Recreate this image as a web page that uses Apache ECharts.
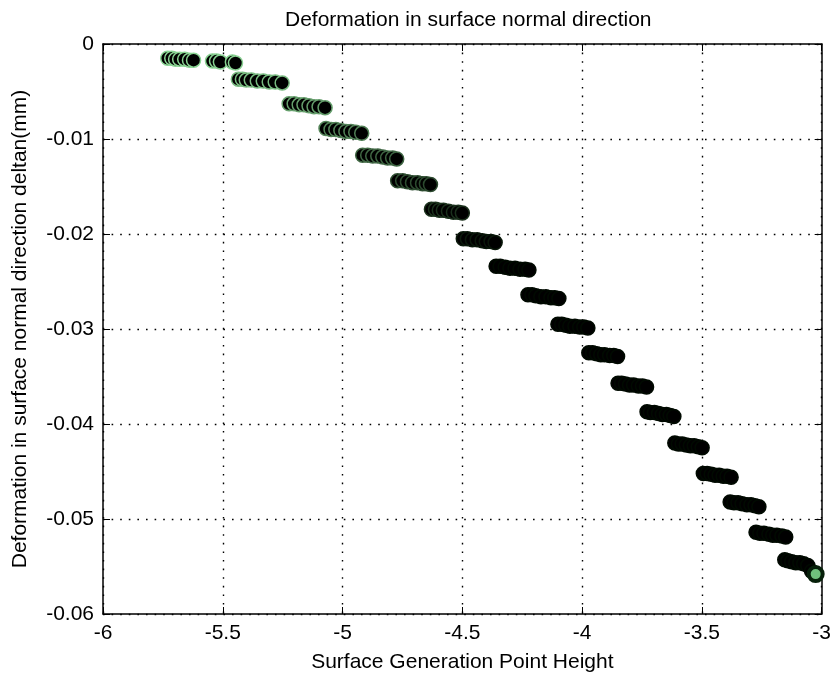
<!DOCTYPE html>
<html>
<head>
<meta charset="utf-8">
<script src="https://cdn.jsdelivr.net/npm/echarts@6/dist/echarts.min.js"></script>
<style>
html,body{margin:0;padding:0;background:#fff;}
#chart{width:834px;height:679px;}
</style>
</head>
<body>
<div id="chart"></div>
<script>
// Surface generation point height (x) for each plotted node, one band per line
const pointHeight = [
  -5.730,-5.713,-5.697,-5.680,-5.659,-5.639,-5.622,-5.543,-5.526,-5.510,-5.460,-5.447,
  -5.435,-5.418,-5.402,-5.381,-5.356,-5.331,-5.306,-5.281,-5.252,
  -5.223,-5.202,-5.181,-5.161,-5.140,-5.119,-5.098,-5.073,
  -5.069,-5.048,-5.028,-5.007,-4.986,-4.965,-4.945,-4.920,
  -4.916,-4.895,-4.874,-4.853,-4.832,-4.812,-4.791,-4.774,
  -4.770,-4.749,-4.729,-4.708,-4.687,-4.666,-4.650,-4.633,
  -4.629,-4.612,-4.596,-4.579,-4.558,-4.537,-4.517,-4.500,
  -4.496,-4.479,-4.458,-4.438,-4.417,-4.400,-4.380,-4.363,
  -4.359,-4.342,-4.321,-4.301,-4.280,-4.259,-4.238,-4.222,
  -4.226,-4.209,-4.193,-4.172,-4.151,-4.130,-4.114,-4.097,
  -4.101,-4.085,-4.068,-4.051,-4.030,-4.010,-3.993,-3.976,
  -3.972,-3.956,-3.939,-3.922,-3.906,-3.885,-3.868,-3.852,
  -3.850,-3.835,-3.819,-3.802,-3.785,-3.765,-3.748,-3.731,
  -3.729,-3.715,-3.698,-3.681,-3.665,-3.648,-3.632,-3.617,
  -3.613,-3.598,-3.582,-3.565,-3.548,-3.532,-3.515,-3.499,
  -3.494,-3.478,-3.461,-3.445,-3.428,-3.411,-3.395,-3.378,
  -3.382,-3.366,-3.349,-3.332,-3.312,-3.295,-3.278,-3.262,
  -3.274,-3.258,-3.241,-3.220,-3.204,-3.187,-3.166,-3.150,
  -3.154,-3.141,-3.125,-3.108,-3.091,-3.075,-3.058,
  -3.042,-3.025
];
// Deformation in surface normal direction deltan (mm) for the same nodes
const pointDeltan = [
  -0.0015,-0.0015,-0.0016,-0.0016,-0.0016,-0.0017,-0.0017,-0.0018,-0.0018,-0.0019,-0.0019,-0.0020,
  -0.0037,-0.0037,-0.0038,-0.0038,-0.0039,-0.0039,-0.0040,-0.0040,-0.0041,
  -0.0063,-0.0063,-0.0064,-0.0064,-0.0065,-0.0066,-0.0066,-0.0067,
  -0.0089,-0.0090,-0.0090,-0.0091,-0.0092,-0.0092,-0.0093,-0.0094,
  -0.0117,-0.0117,-0.0118,-0.0118,-0.0119,-0.0120,-0.0120,-0.0121,
  -0.0144,-0.0144,-0.0145,-0.0146,-0.0146,-0.0147,-0.0147,-0.0148,
  -0.0174,-0.0174,-0.0175,-0.0175,-0.0176,-0.0177,-0.0177,-0.0178,
  -0.0205,-0.0205,-0.0206,-0.0206,-0.0207,-0.0208,-0.0208,-0.0209,
  -0.0234,-0.0234,-0.0235,-0.0236,-0.0236,-0.0237,-0.0237,-0.0238,
  -0.0264,-0.0264,-0.0265,-0.0266,-0.0266,-0.0267,-0.0267,-0.0268,
  -0.0295,-0.0295,-0.0296,-0.0297,-0.0297,-0.0298,-0.0298,-0.0299,
  -0.0325,-0.0325,-0.0326,-0.0327,-0.0327,-0.0328,-0.0328,-0.0329,
  -0.0357,-0.0357,-0.0358,-0.0359,-0.0359,-0.0360,-0.0360,-0.0361,
  -0.0387,-0.0388,-0.0388,-0.0389,-0.0390,-0.0390,-0.0391,-0.0392,
  -0.0420,-0.0421,-0.0421,-0.0422,-0.0423,-0.0423,-0.0424,-0.0425,
  -0.0452,-0.0452,-0.0453,-0.0454,-0.0454,-0.0455,-0.0455,-0.0456,
  -0.0482,-0.0483,-0.0483,-0.0484,-0.0485,-0.0485,-0.0486,-0.0487,
  -0.0514,-0.0515,-0.0515,-0.0516,-0.0517,-0.0517,-0.0518,-0.0519,
  -0.0543,-0.0544,-0.0545,-0.0546,-0.0546,-0.0547,-0.0549,
  -0.0555,-0.0558
];
const xTickValues = [-6, -5.5, -5, -4.5, -4, -3.5, -3];
const yTickValues = [0, -0.01, -0.02, -0.03, -0.04, -0.05, -0.06];

const FONT = '"Liberation Sans", Arial, sans-serif';

function edgeColor(d) {
  const t = Math.min(1, Math.max(0, -d / 0.06));
  let f = Math.max(0, 1 - t * 2.6);
  f = Math.pow(f, 1.2);
  const r = Math.round(150 * f), g = Math.round(230 * f + 10 * (1 - f)), b = Math.round(160 * f);
  return 'rgb(' + r + ',' + g + ',' + b + ')';
}

const data = pointHeight.map(function (h, i) {
  const d = pointDeltan[i];
  const last = i === pointHeight.length - 1;
  return {
    value: [h, d],
    itemStyle: {
      color: last ? '#6fbf7c' : '#000',
      borderColor: last ? '#06200a' : edgeColor(d),
      borderWidth: last ? 4 : 1.5,
      opacity: 1
    }
  };
});

const chart = echarts.init(document.getElementById('chart'), null, {renderer: 'canvas'});

const dotted = {show: true, lineStyle: {color: '#000', width: 1.4, type: [1.6, 7]}};
const labelStyle = {color: '#000', fontFamily: FONT, fontSize: 21};

chart.setOption({
  animation: false,
  backgroundColor: '#fff',
  title: {
    text: 'Deformation in surface normal direction',
    left: 280,
    top: 5,
    textStyle: {color: '#000', fontWeight: 'normal', fontFamily: FONT, fontSize: 21}
  },
  grid: {left: 103, right: 9, top: 44, bottom: 65, containLabel: false},
  xAxis: [{
    type: 'value', min: xTickValues[0], max: xTickValues[xTickValues.length - 1], interval: 0.5,
    name: 'Surface Generation Point Height', nameLocation: 'middle', nameGap: 38,
    nameTextStyle: labelStyle,
    axisLine: {show: true, onZero: false, lineStyle: {color: '#000', width: 1.5}},
    axisTick: {show: true, inside: true, length: 7, lineStyle: {color: '#000'}},
    axisLabel: Object.assign({margin: 9, formatter: function (v) { return String(v); }}, labelStyle),
    splitLine: dotted
  }, {
    type: 'value', position: 'top', min: xTickValues[0], max: xTickValues[xTickValues.length - 1], interval: 0.5,
    axisLine: {show: true, onZero: false, lineStyle: {color: '#000', width: 1.5}},
    axisTick: {show: true, inside: true, length: 7, lineStyle: {color: '#000'}},
    axisLabel: {show: false}, splitLine: {show: false}
  }],
  yAxis: [{
    type: 'value', min: yTickValues[yTickValues.length - 1], max: yTickValues[0], interval: 0.01,
    name: 'Deformation in surface normal direction deltan(mm)', nameLocation: 'middle', nameGap: 72,
    nameTextStyle: labelStyle,
    axisLine: {show: true, onZero: false, lineStyle: {color: '#000', width: 1.5}},
    axisTick: {show: true, inside: true, length: 7, lineStyle: {color: '#000'}},
    axisLabel: Object.assign({margin: 9, formatter: function (v) { return String(Math.round(v * 100) / 100); }}, labelStyle),
    splitLine: dotted
  }, {
    type: 'value', position: 'right', min: yTickValues[yTickValues.length - 1], max: yTickValues[0], interval: 0.01,
    axisLine: {show: true, onZero: false, lineStyle: {color: '#000', width: 1.5}},
    axisTick: {show: true, inside: true, length: 7, lineStyle: {color: '#000'}},
    axisLabel: {show: false}, splitLine: {show: false}
  }],
  series: [{
    type: 'scatter',
    xAxisIndex: 0, yAxisIndex: 0,
    symbol: 'circle',
    symbolSize: 14,
    clip: false,
    data: data
  }]
});
</script>
</body>
</html>
